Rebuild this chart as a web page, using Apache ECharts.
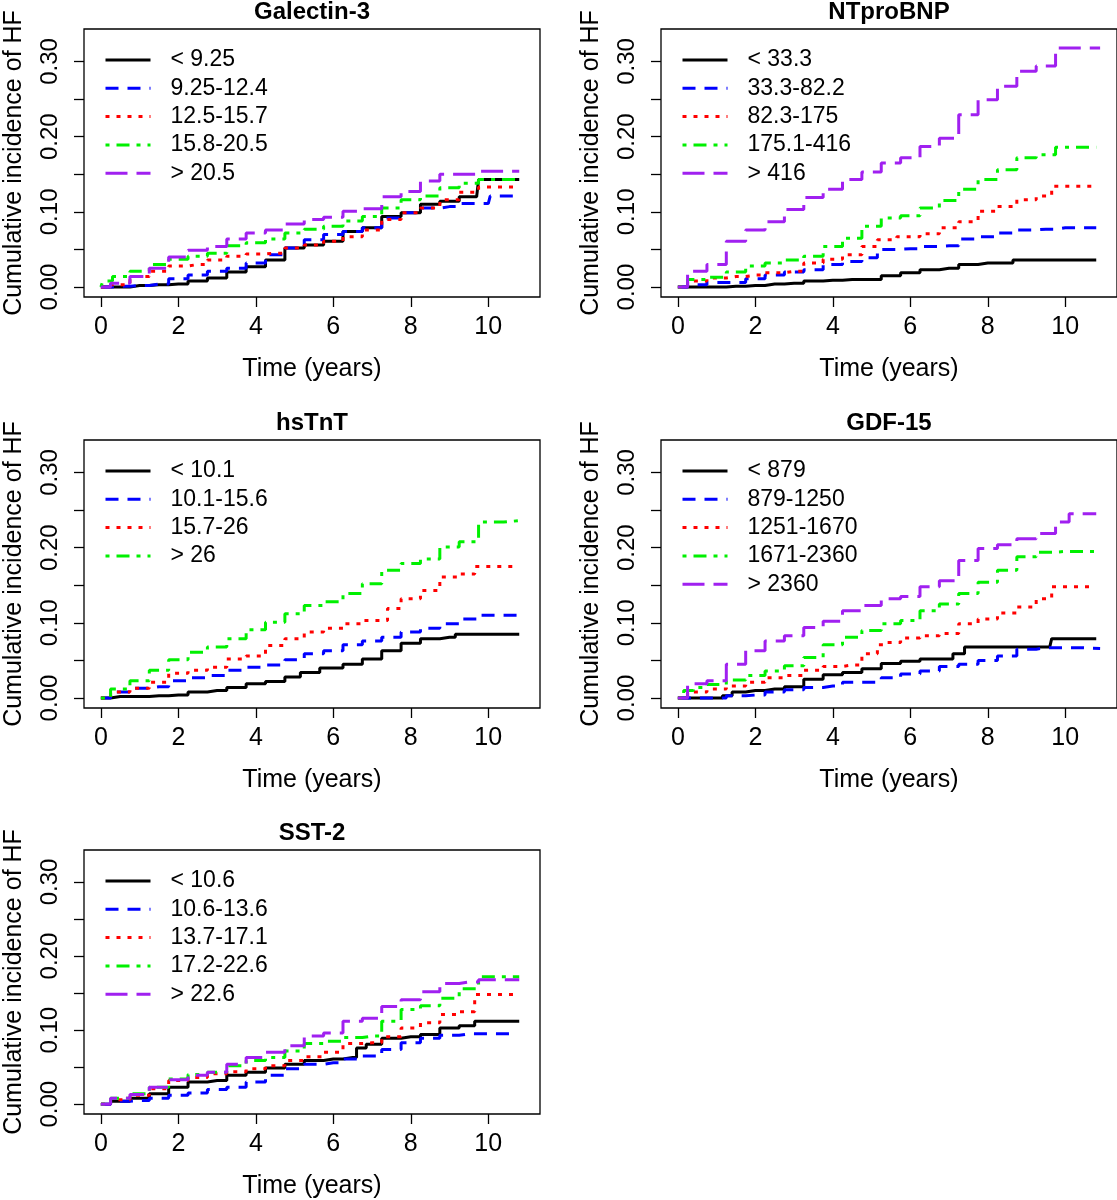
<!DOCTYPE html>
<html>
<head>
<meta charset="utf-8">
<title>Cumulative incidence of HF by biomarker</title>
<script src="https://cdn.jsdelivr.net/npm/echarts@6/dist/echarts.min.js"></script>
<style>
  html, body { margin: 0; padding: 0; background: #fff; }
  #output { width: 1117px; height: 1200px; }
</style>
</head>
<body>
<div id="output"></div>
<script>
const chart = echarts.init(document.getElementById('output'));

// panel titles and legend labels
const panelTitles = ['Galectin-3', 'NTproBNP', 'hsTnT', 'GDF-15', 'SST-2'];
const galectinLabels = ['< 9.25', '9.25-12.4', '12.5-15.7', '15.8-20.5', '> 20.5'];
const ntprobnpLabels = ['< 33.3', '33.3-82.2', '82.3-175', '175.1-416', '> 416'];
const hstntLabels = ['< 10.1', '10.1-15.6', '15.7-26', '> 26'];
const gdfLabels = ['< 879', '879-1250', '1251-1670', '1671-2360', '> 2360'];
const sstLabels = ['< 10.6', '10.6-13.6', '13.7-17.1', '17.2-22.6', '> 22.6'];

const xTicks = [0, 2, 4, 6, 8, 10];
const yTicks = [0, 0.05, 0.1, 0.15, 0.2, 0.25, 0.3];
const yLabels = [0, 0.1, 0.2, 0.3];

// [time (years), cumulative incidence]
const gal1 = [[0,0],[0.5,0],[1,0.002],[1.5,0.003],[2,0.004],[2.5,0.008],[3,0.012],[3.5,0.02],[4,0.027],[4.5,0.036],[5,0.052],[5.5,0.056],[6,0.061],[6.5,0.074],[7,0.079],[7.5,0.094],[8,0.099],[8.5,0.11],[9,0.114],[9.5,0.12],[9.7,0.12],[9.8,0.143],[10.8,0.143]];
const gal2 = [[0,0],[0.5,0.001],[1,0.002],[1.5,0.004],[2,0.011],[2.5,0.016],[3,0.021],[3.5,0.025],[4,0.032],[4.5,0.043],[5,0.052],[5.5,0.063],[6,0.07],[6.5,0.074],[7,0.079],[7.5,0.092],[8,0.099],[8.5,0.105],[9,0.107],[9.5,0.111],[10,0.111],[10.1,0.121],[10.7,0.121]];
const gal3 = [[0,0],[0.5,0.003],[1,0.014],[1.5,0.021],[2,0.028],[2.5,0.03],[3,0.036],[3.5,0.041],[4,0.044],[4.5,0.045],[5,0.052],[5.5,0.056],[6,0.061],[6.5,0.067],[7,0.076],[7.5,0.09],[8,0.099],[8.5,0.105],[9,0.116],[9.5,0.126],[10,0.133],[10.8,0.133]];
const gal4 = [[0,0],[0.1,0.008],[0.5,0.014],[1,0.021],[1.5,0.03],[2,0.037],[2.5,0.041],[3,0.045],[3.5,0.055],[4,0.059],[4.5,0.064],[5,0.072],[5.5,0.077],[6,0.081],[6.5,0.088],[7,0.094],[7.5,0.105],[8,0.116],[8.5,0.121],[9,0.132],[9.5,0.138],[10,0.143],[10.8,0.143]];
const gal5 = [[0,0],[0.5,0.005],[1,0.014],[1.5,0.025],[2,0.04],[2.5,0.049],[3,0.054],[3.5,0.064],[4,0.072],[4.5,0.076],[5,0.084],[5.5,0.09],[6,0.093],[6.5,0.101],[7,0.104],[7.5,0.12],[8,0.127],[8.5,0.141],[9,0.15],[9.5,0.15],[10,0.154],[10.8,0.154]];

const nt1 = [[0,0],[1,0],[1.5,0.001],[2,0.002],[2.5,0.004],[3,0.005],[3.5,0.008],[4,0.009],[4.5,0.01],[5,0.01],[5.5,0.015],[6,0.019],[6.5,0.023],[7,0.025],[7.5,0.03],[8,0.032],[8.5,0.032],[8.8,0.036],[10.8,0.036]];
const nt2 = [[0,0],[0.5,0.003],[1,0.006],[1.5,0.006],[2,0.011],[2.5,0.016],[3,0.02],[3.5,0.023],[4,0.03],[4.5,0.034],[5,0.039],[5.3,0.05],[6,0.051],[6.5,0.054],[7,0.055],[7.5,0.064],[8,0.067],[8.5,0.072],[9,0.076],[9.5,0.077],[10,0.079],[10.8,0.079]];
const nt3 = [[0,0],[0.5,0.008],[1,0.012],[1.5,0.014],[2,0.016],[2.5,0.019],[3,0.021],[3.5,0.032],[4,0.037],[4.5,0.043],[5,0.054],[5.3,0.063],[6,0.067],[6.5,0.071],[7,0.079],[7.5,0.087],[8,0.101],[8.5,0.107],[9,0.116],[9.5,0.121],[9.8,0.134],[10.8,0.134]];
const nt4 = [[0,0],[0.5,0.01],[1,0.013],[1.5,0.02],[2,0.028],[2.5,0.032],[3,0.036],[3.5,0.041],[4,0.054],[4.5,0.065],[5,0.081],[5.5,0.092],[6,0.095],[6.5,0.105],[7,0.115],[7.5,0.13],[8,0.143],[8.5,0.156],[9,0.172],[9.5,0.176],[10,0.186],[10.8,0.186]];
const nt5 = [[0,0],[0.5,0.021],[1,0.03],[1.5,0.061],[2,0.076],[2.5,0.087],[3,0.103],[3.5,0.119],[4,0.13],[4.5,0.143],[5,0.153],[5.5,0.165],[6,0.172],[6.5,0.187],[7,0.198],[7.5,0.229],[8,0.249],[8.5,0.267],[9,0.287],[9.5,0.294],[10,0.318],[10.9,0.318]];

const hs1 = [[0,0],[0.5,0.002],[1,0.002],[1.5,0.003],[2,0.004],[2.5,0.008],[3,0.01],[3.5,0.014],[4,0.019],[4.5,0.022],[5,0.028],[5.3,0.034],[6,0.04],[6.5,0.045],[7,0.052],[7.5,0.063],[8,0.073],[8.5,0.079],[9,0.081],[9.3,0.085],[10.8,0.085]];
const hs2 = [[0,0],[0.5,0.008],[1,0.013],[1.5,0.015],[2,0.023],[2.5,0.027],[3,0.03],[3.5,0.037],[4,0.041],[4.5,0.044],[5,0.051],[5.5,0.059],[6,0.063],[6.5,0.071],[7,0.076],[7.5,0.081],[8,0.088],[8.5,0.093],[9,0.099],[9.5,0.105],[10,0.11],[10.9,0.11]];
const hs3 = [[0,0],[0.5,0.008],[1,0.013],[1.5,0.021],[2,0.033],[2.5,0.037],[3,0.041],[3.5,0.052],[4,0.056],[4.5,0.07],[5,0.079],[5.5,0.088],[6,0.093],[6.5,0.099],[7,0.103],[7.3,0.103],[7.5,0.119],[8,0.132],[8.5,0.143],[9,0.161],[9.5,0.165],[9.8,0.175],[10.8,0.175]];
const hs4 = [[0,0],[0.5,0.012],[1,0.023],[1.5,0.037],[2,0.051],[2.5,0.061],[3,0.068],[3.5,0.079],[4,0.091],[4.5,0.101],[5,0.112],[5.5,0.123],[6,0.128],[6.5,0.139],[7,0.152],[7.5,0.17],[8,0.179],[8.5,0.185],[9,0.201],[9.5,0.208],[10,0.234],[10.8,0.236]];

const gdf1 = [[0,0],[1,0],[1.3,0.003],[1.5,0.008],[2,0.01],[2.5,0.012],[3,0.015],[3.5,0.025],[4,0.031],[4.5,0.034],[5,0.039],[5.5,0.046],[6,0.049],[6.5,0.052],[7,0.052],[7.2,0.059],[7.6,0.068],[8,0.068],[9,0.068],[9.6,0.068],[9.7,0.079],[10.8,0.079]];
const gdf2 = [[0,0],[1,0],[1.5,0.003],[2,0.004],[2.5,0.008],[3,0.011],[3.5,0.014],[4,0.016],[4.5,0.021],[5,0.021],[5.5,0.027],[6,0.032],[6.5,0.036],[7,0.042],[7.5,0.045],[8,0.05],[8.5,0.056],[9,0.065],[9.5,0.067],[10,0.067],[10.9,0.066]];
const gdf3 = [[0,0],[0.5,0.008],[1,0.012],[1.5,0.016],[2,0.021],[2.5,0.027],[3,0.03],[3.5,0.037],[4,0.042],[4.5,0.044],[5,0.059],[5.3,0.071],[5.5,0.074],[6,0.08],[6.5,0.083],[7,0.086],[7.5,0.099],[8,0.105],[8.5,0.113],[9,0.121],[9.5,0.132],[9.8,0.148],[10.7,0.148]];
const gdf4 = [[0,0],[0.3,0.01],[0.5,0.014],[1,0.018],[1.5,0.024],[2,0.03],[2.5,0.036],[3,0.043],[3.5,0.054],[4,0.071],[4.5,0.081],[5,0.09],[5.5,0.099],[6,0.103],[6.5,0.116],[7,0.125],[7.5,0.139],[8,0.154],[8.5,0.17],[9,0.188],[9.5,0.194],[10,0.195],[10.9,0.195]];
const gdf5 = [[0,0],[0.5,0.019],[1,0.023],[1.5,0.045],[2,0.063],[2.5,0.076],[3,0.083],[3.5,0.094],[4,0.102],[4.5,0.116],[5,0.123],[5.5,0.132],[6,0.135],[6.5,0.148],[7,0.156],[7.5,0.183],[8,0.199],[8.5,0.204],[9,0.212],[9.5,0.219],[10,0.234],[10.2,0.245],[10.8,0.245]];

const sst1 = [[0,0],[0.5,0.004],[1,0.008],[1.5,0.014],[2,0.023],[2.5,0.03],[3,0.032],[3.5,0.039],[4,0.043],[4.5,0.049],[5,0.054],[5.5,0.059],[6,0.061],[6.5,0.063],[6.7,0.076],[7,0.081],[7.5,0.089],[8,0.091],[8.5,0.094],[9,0.103],[9.5,0.106],[9.8,0.112],[10.8,0.112]];
const sst2 = [[0,0],[0.5,0.004],[1,0.005],[1.5,0.008],[2,0.012],[2.5,0.015],[3,0.02],[3.5,0.023],[4,0.03],[4.5,0.039],[5,0.048],[5.5,0.054],[6,0.056],[6.5,0.061],[7,0.065],[7.5,0.074],[8,0.083],[8.5,0.089],[9,0.093],[9.5,0.095],[10.7,0.095]];
const sst3 = [[0,0],[0.5,0.006],[1,0.012],[1.5,0.021],[2,0.032],[2.5,0.036],[3,0.041],[3.5,0.044],[4,0.048],[4.5,0.052],[5,0.059],[5.5,0.064],[6,0.07],[6.5,0.082],[7,0.083],[7.5,0.091],[8,0.103],[8.5,0.11],[9,0.121],[9.5,0.125],[9.8,0.148],[10.8,0.148]];
const sst4 = [[0,0],[0.5,0.008],[1,0.014],[1.5,0.023],[2,0.034],[2.5,0.04],[3,0.043],[3.5,0.052],[4,0.059],[4.5,0.063],[5,0.072],[5.5,0.082],[6,0.085],[6.5,0.09],[7,0.092],[7.5,0.112],[8,0.128],[8.5,0.133],[9,0.143],[9.5,0.156],[10,0.172],[10.8,0.172]];
const sst5 = [[0,0],[0.5,0.008],[1,0.013],[1.5,0.023],[2,0.033],[2.5,0.039],[3,0.043],[3.5,0.054],[4,0.063],[4.5,0.07],[5,0.079],[5.5,0.092],[6,0.096],[6.5,0.112],[7,0.116],[7.5,0.132],[8,0.141],[8.5,0.152],[9,0.163],[9.5,0.165],[10,0.168],[10.8,0.168]];

const panels = [
  { labels: galectinLabels, curves: [gal1, gal2, gal3, gal4, gal5] },
  { labels: ntprobnpLabels, curves: [nt1, nt2, nt3, nt4, nt5] },
  { labels: hstntLabels, curves: [hs1, hs2, hs3, hs4] },
  { labels: gdfLabels, curves: [gdf1, gdf2, gdf3, gdf4, gdf5] },
  { labels: sstLabels, curves: [sst1, sst2, sst3, sst4, sst5] }
];

// R-like look: colours 1,4,2,3,purple and lty 1..5
const COLORS = ['#000000', '#0000FF', '#FF0000', '#00F000', '#A020F0'];
const DASHES = ['solid', [13, 9], [4, 7], [4, 7, 13, 7], [22, 9]];
const FONT = 'Liberation Sans, Arial, Helvetica, sans-serif';

const BOX_W = 456;
const BOX_H = 268;
const boxes = [[84, 29], [661, 29], [84, 440], [661, 440], [84, 850]];

const grid = [], xAxis = [], yAxis = [], title = [], legend = [], series = [];

panels.forEach((p, i) => {
  const [left, top] = boxes[i];
  grid.push({
    left, top, width: BOX_W, height: BOX_H,
    show: true, borderColor: '#000', borderWidth: 1.3, backgroundColor: 'transparent'
  });
  xAxis.push({
    gridIndex: i, type: 'value', min: -0.436, max: 11.336,
    name: 'Time (years)', nameLocation: 'middle', nameGap: 60,
    nameTextStyle: { fontSize: 25, color: '#000', fontFamily: FONT },
    axisLine: { show: false, onZero: false },
    axisTick: { show: true, inside: false, length: 10, customValues: xTicks, lineStyle: { color: '#000', width: 1.3 } },
    axisLabel: { customValues: xTicks, margin: 18, fontSize: 25, color: '#000', fontFamily: FONT },
    splitLine: { show: false }
  });
  yAxis.push({
    gridIndex: i, type: 'value', min: -0.0132, max: 0.3432,
    name: 'Cumulative incidence of HF', nameLocation: 'middle', nameGap: 57,
    nameTextStyle: { fontSize: 25, color: '#000', fontFamily: FONT },
    axisLine: { show: false, onZero: false },
    axisTick: { show: true, inside: false, length: 10, customValues: yTicks, lineStyle: { color: '#000', width: 1.3 } },
    axisLabel: {
      customValues: yLabels, rotate: 90, margin: 22, fontSize: 24, color: '#000', fontFamily: FONT,
      formatter: v => v.toFixed(2)
    },
    splitLine: { show: false }
  });
  title.push({
    text: panelTitles[i], left: left + BOX_W / 2, top: top - 29, textAlign: 'center', padding: 0,
    textStyle: { fontSize: 24, fontWeight: 'bold', color: '#000', fontFamily: FONT }
  });
  legend.push({
    data: p.labels, orient: 'vertical', left: left + 20, top: top + 19, padding: 0,
    itemWidth: 45, itemHeight: 14, itemGap: 4.3, selectedMode: false,
    itemStyle: { opacity: 0 },
    lineStyle: { width: 3, type: 'inherit', color: 'inherit' },
    textStyle: { fontSize: 23, lineHeight: 24, color: '#000', fontFamily: FONT, padding: [0, 0, 0, 15] }
  });
  p.curves.forEach((data, k) => {
    series.push({
      name: p.labels[k], type: 'line', xAxisIndex: i, yAxisIndex: i,
      data, step: 'middle', symbol: 'none', silent: true,
      color: COLORS[k],
      lineStyle: { color: COLORS[k], width: 3, type: DASHES[k] }
    });
  });
});

chart.setOption({
  animation: false,
  backgroundColor: '#fff',
  title, legend, grid, xAxis, yAxis, series
});
</script>
</body>
</html>
